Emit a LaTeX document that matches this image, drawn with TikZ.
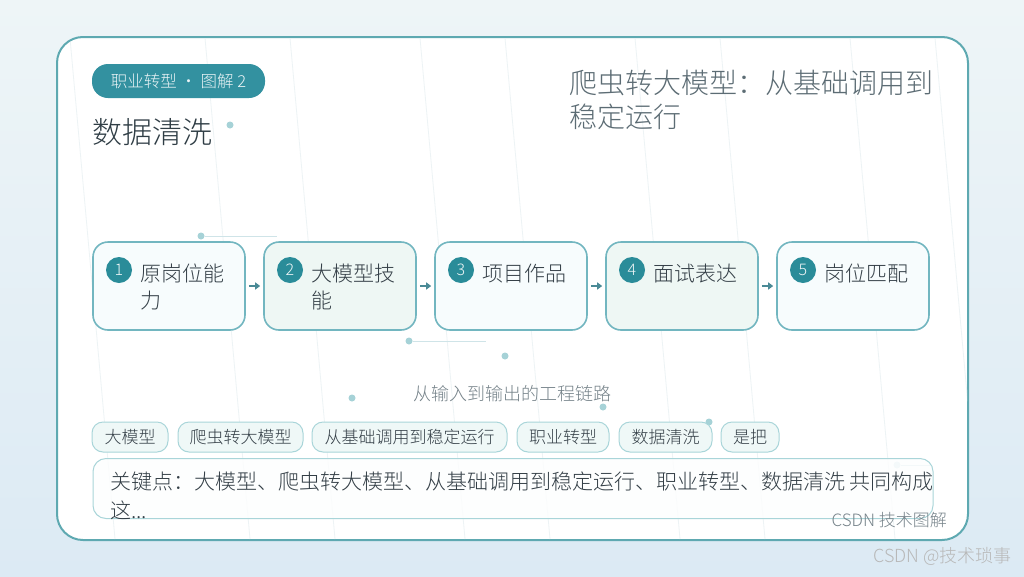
\documentclass[tikz,border=0pt]{standalone}
\usepackage{fontspec}
\setmainfont{Noto Sans CJK SC}[UprightFont={* Light}]
\usetikzlibrary{arrows.meta}
\definecolor{bgA}{HTML}{EEF5F7}
\definecolor{bgB}{HTML}{DCEAF4}
\definecolor{cardline}{HTML}{5EA9B1}
\definecolor{teal}{HTML}{3391A0}
\definecolor{circ}{HTML}{2A8C99}
\definecolor{boxline}{HTML}{72B6C0}
\definecolor{boxA}{HTML}{F7FCFD}
\definecolor{boxB}{HTML}{EEF7F4}
\definecolor{txt}{HTML}{333E46}
\definecolor{title}{HTML}{2F3D45}
\definecolor{subt}{HTML}{5C6C74}
\definecolor{tagfill}{HTML}{EFF8F7}
\definecolor{tagline}{HTML}{A9D5D9}
\definecolor{dotc}{HTML}{A6D2D7}
\definecolor{dline}{HTML}{CFE4E8}
\definecolor{arrc}{HTML}{4A8A96}
\definecolor{faint}{HTML}{EDF3F5}
\tikzset{
  stepbox/.style={draw=boxline, line width=1.6pt, rounded corners=15pt, minimum width=152pt, minimum height=88pt, inner sep=0pt},
  numc/.style={circle, fill=circ, minimum size=26pt, inner sep=0pt, text=white!92!teal, font=\fontsize{16}{16}\selectfont},
  steptxt/.style={anchor=north west, align=left, text=txt, inner sep=0pt, font=\fontsize{21}{27}\selectfont},
  tag/.style={draw=tagline, fill=tagfill, line width=1pt, rounded corners=11pt, minimum height=30pt, inner sep=0pt, text=txt, font=\fontsize{17}{17}\selectfont},
  arr/.style={draw=arrc, line width=1.6pt, -{Triangle[length=5pt,width=7pt]}, shorten <=3pt, shorten >=3pt},
  ddot/.style={circle, fill=dotc, minimum size=7pt, inner sep=0pt},
}
\begin{document}
\begin{tikzpicture}[x=1pt,y=-1pt]
\useasboundingbox (0,0) rectangle (1024,576);
\shade[top color=bgA, bottom color=bgB] (0,0) rectangle (1024,576);
% card
\node[draw=cardline, line width=2pt, fill=white!98!bgA, rounded corners=26pt, minimum width=911pt, minimum height=503pt, inner sep=0pt] (card) at (512.5,288.5) {};
% faint texture lines
\begin{scope}
\clip[rounded corners=26pt] (58,38) rectangle (967,539);
\foreach \x in {70,205,290,420,505,635,720,850,935} {
  \draw[faint, line width=0.8pt] (\x,38) -- (\x+45,539);
}
\end{scope}
% pill
\node[fill=teal, rounded corners=16pt, minimum width=173pt, minimum height=34pt, inner sep=0pt, text=white!90!teal, font=\fontsize{16.5}{16.5}\selectfont] (pill) at (178.5,81) {职业转型 · 图解 2};
% titles
\node[anchor=west, inner sep=0pt, text=title, font=\fontsize{30}{30}\selectfont] (ttl) at (92,132) {数据清洗};
\node[ddot] (d0) at (230,125) {};
\node[anchor=north west, align=left, inner sep=0pt, text=subt, font=\fontsize{28}{34}\selectfont] (rt) at (569,70) {爬虫转大模型：从基础调用到\\稳定运行};
% decorative dots/lines
\node[ddot] (d1) at (201,236) {};
\coordinate (e1) at (277,236);
\draw[dline, line width=1pt] (d1) -- (e1);
\node[ddot] (d2) at (409,341) {};
\coordinate (e2) at (486,341);
\draw[dline, line width=1pt] (d2) -- (e2);
\node[ddot] (d3) at (505,356) {};
\node[ddot] (d4) at (352,398) {};
\node[ddot] (d5) at (603,407) {};
\node[ddot] (d6) at (709,422) {};
\node[ddot, fill=dotc!50] (d7) at (897,465) {};
\coordinate (e7) at (930,465);
\draw[dline, line width=1pt] (d7) -- (e7);
% step boxes
\node[stepbox, fill=boxA] (b1) at (169,286) {};
\node[stepbox, fill=boxB] (b2) at (340,286) {};
\node[stepbox, fill=boxA] (b3) at (511,286) {};
\node[stepbox, fill=boxB] (b4) at (682,286) {};
\node[stepbox, fill=boxA] (b5) at (853,286) {};
\node[numc] (n1) at (119,270) {1};
\node[numc] (n2) at (290,270) {2};
\node[numc] (n3) at (461,270) {3};
\node[numc] (n4) at (632,270) {4};
\node[numc] (n5) at (803,270) {5};
\node[steptxt] (t1) at (140,264) {原岗位能\\力};
\node[steptxt] (t2) at (311,264) {大模型技\\能};
\node[steptxt] (t3) at (482,264) {项目作品};
\node[steptxt] (t4) at (653,264) {面试表达};
\node[steptxt] (t5) at (824,264) {岗位匹配};
\draw[arr] (b1) -- (b2);
\draw[arr] (b2) -- (b3);
\draw[arr] (b3) -- (b4);
\draw[arr] (b4) -- (b5);
% subtitle
\node[inner sep=0pt, text=subt!85, font=\fontsize{18}{18}\selectfont] (sub) at (512,394) {从输入到输出的工程链路};
% tags
\node[tag, minimum width=76pt] (g1) at (130,437) {大模型};
\node[tag, minimum width=125pt] (g2) at (240.5,437) {爬虫转大模型};
\node[tag, minimum width=195pt] (g3) at (409.5,437) {从基础调用到稳定运行};
\node[tag, minimum width=92pt] (g4) at (563,437) {职业转型};
\node[tag, minimum width=93pt] (g5) at (665.5,437) {数据清洗};
\node[tag, minimum width=58pt] (g6) at (750,437) {是把};
% key box
\node[draw=tagline, fill=white!85!tagfill, fill opacity=0.8, text opacity=1, line width=1pt, rounded corners=13pt, minimum width=840pt, minimum height=60pt, inner sep=0pt] (key) at (513,488.5) {};
\node[anchor=north west, align=left, inner sep=0pt, text=txt, font=\fontsize{21}{29}\selectfont] (kt) at (110,472) {关键点：大模型、爬虫转大模型、从基础调用到稳定运行、职业转型、数据清洗 共同构成\\这...};
% footer
\node[anchor=east, inner sep=0pt, text=subt!85, font=\fontsize{17}{17}\selectfont] (ft) at (947,520) {CSDN 技术图解};
\node[anchor=east, inner sep=0pt, text=black!28, font=\fontsize{18}{18}\selectfont] (wm) at (1012,556) {CSDN @技术琐事};
\end{tikzpicture}
\end{document}
